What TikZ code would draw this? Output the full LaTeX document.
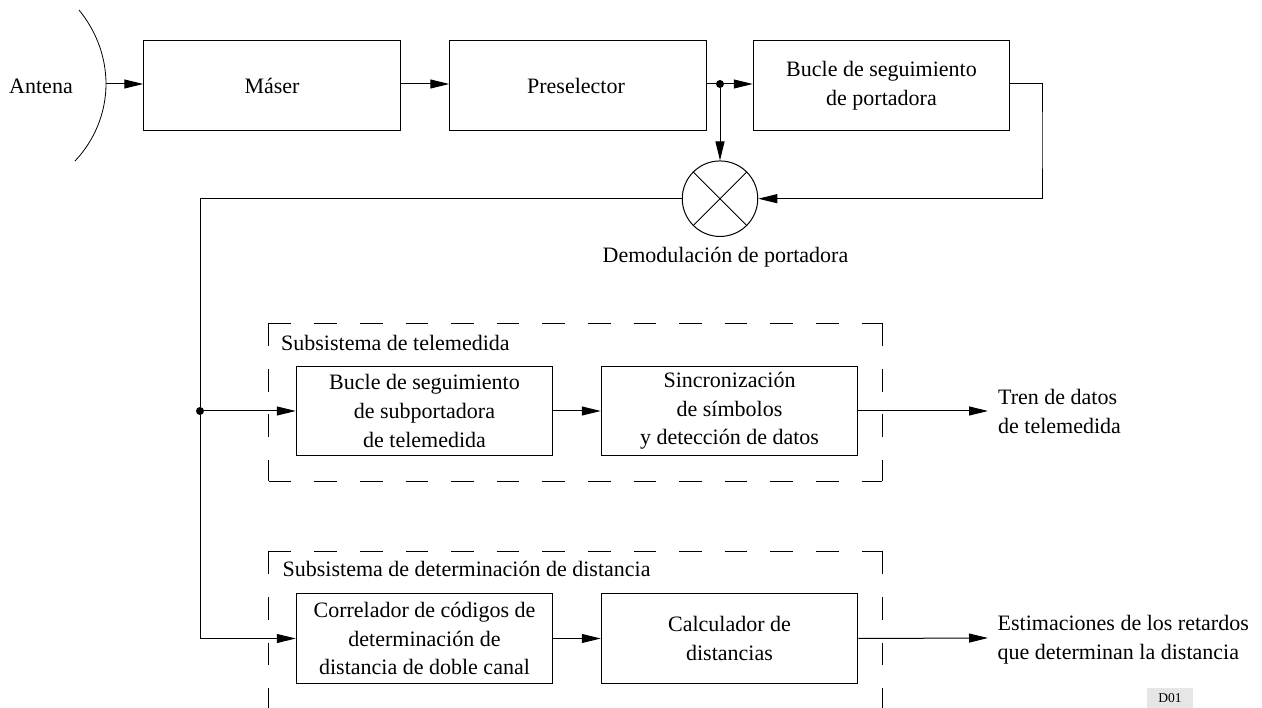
\documentclass[tikz,border=0pt]{standalone}
\usepackage{fontspec}
\setmainfont{Liberation Serif}
\usetikzlibrary{arrows.meta}
\tikzset{
  blockbox/.style={draw, rectangle, line width=1pt, minimum width=256.5pt, minimum height=89.5pt, inner sep=0pt, align=center},
  mixer/.style={draw, circle, line width=1pt, minimum size=75.5pt, inner sep=0pt},
  junction/.style={circle, fill, minimum size=8pt, inner sep=0pt},
  textlabel/.style={inner sep=0pt, align=left},
  conn/.style={line width=1pt},
  arrowconn/.style={conn, -{Triangle[length=19pt,width=9pt]}},
  subsys/.style={line width=1pt, dash pattern=on 22.7pt off 22.9pt}
}
\begin{document}
\begin{tikzpicture}[x=1pt, y=-1pt, font=\fontsize{22}{28.6}\selectfont]
\useasboundingbox (0,0) rectangle (1262,708);
% chain on top
\node[blockbox] (maser) at (272,85.5){M\'aser};
\node[blockbox] (presel) at (578,85.5){\hspace{-4pt}Preselector};
\node[blockbox] (pll) at (881.5,85.5){\raisebox{-1pt}{Bucle de seguimiento}\\\raisebox{-1pt}{de portadora}};
\node[mixer] (demod) at (720,198.7){};
\node[junction] (split) at (720,84){};
\node[junction] (branch) at (200,411){};
\node[textlabel] (antlabel) at (41,86){Antena};
\node[textlabel] (demodlabel) at (725.5,257){Demodulaci\'on de portadora};
% antenna
\coordinate (anttop) at (79,10);
\coordinate (antmid) at (106,84);
\coordinate (antbot) at (75,161);
\draw[line width=0.8pt] (anttop) .. controls (97,32) and (106,58) .. (antmid) .. controls (106,112) and (95,140) .. (antbot);
\draw[arrowconn] (antmid) -- (maser.west |- antmid);
\draw[arrowconn] (maser.east |- antmid) -- (presel.west |- antmid);
\draw[conn] (presel.east |- split) -- (split);
\draw[arrowconn] (split) -- (pll.west |- split);
\draw[arrowconn] (split) -- (demod.north);
\draw[line width=0.8pt] (demod.north west) -- (demod.south east);
\draw[line width=0.8pt] (demod.north east) -- (demod.south west);
\coordinate (pllturn) at (1042,140);
\draw[arrowconn] (pll.east |- split) -| (pllturn) |- (demod.east);
% subsystem 1
\node[blockbox] (subcarrier) at (424.5,411){Bucle de seguimiento\\de subportadora\\de telemedida};
\node[blockbox] (symsync) at (729.5,411){Sincronizaci\'on\\de s\'imbolos\\y detecci\'on de datos};
\node[textlabel, anchor=base west] (telelabel) at (281,350.7){Subsistema de telemedida};
\coordinate (telenw) at (268.7,323.3);
\coordinate (telene) at (882,323.3);
\coordinate (telesw) at (268.7,481.3);
\coordinate (telese) at (882,481.3);
\draw[subsys] (telenw) -- (telene);
\draw[subsys] (telenw) -- (telesw);
\draw[subsys] (telesw) -- (telese);
\draw[subsys] (telene) -- (telese);
% subsystem 2
\node[blockbox] (correl) at (424.5,638.5){Correlador de c\'odigos de\\determinaci\'on de\\distancia de doble canal};
\node[blockbox] (rangecalc) at (729.5,638.5){Calculador de\\distancias};
\node[textlabel, anchor=base west] (rangelabel) at (282.5,576.7){Subsistema de determinaci\'on de distancia};
\coordinate (rangenw) at (268.7,551.3);
\coordinate (rangene) at (882,551.3);
\coordinate (rangesw) at (268.7,708);
\coordinate (rangese) at (882,708);
\draw[subsys] (rangenw) -- (rangene);
\draw[subsys] (rangenw) -- (rangesw);
\draw[subsys] (rangene) -- (rangese);
% wires
\draw[conn] (demod.west) -| (branch);
\draw[arrowconn] (branch) -- (subcarrier.west);
\draw[arrowconn] (branch) |- (correl.west);
\draw[arrowconn] (subcarrier) -- (symsync);
\draw[arrowconn] (correl) -- (rangecalc);
\coordinate (teleout) at (988,411);
\coordinate (rangeout) at (988,638);
\draw[arrowconn] (symsync.east) -- (teleout);
\draw[arrowconn] (rangecalc.east) -- (rangeout);
\node[textlabel, anchor=west] (teletext) at (998,411.5){Tren de datos\\de telemedida};
\node[textlabel, anchor=west] (rangetext) at (997.5,640){Estimaciones de los retardos\\que determinan la distancia};
\node[fill={rgb,255:red,230;green,230;blue,230}, minimum width=46pt, minimum height=20pt, inner sep=0pt, font=\fontsize{13.5}{14}\selectfont] (docid) at (1170,698){\raisebox{-4pt}{D01}};
\end{tikzpicture}
\end{document}
